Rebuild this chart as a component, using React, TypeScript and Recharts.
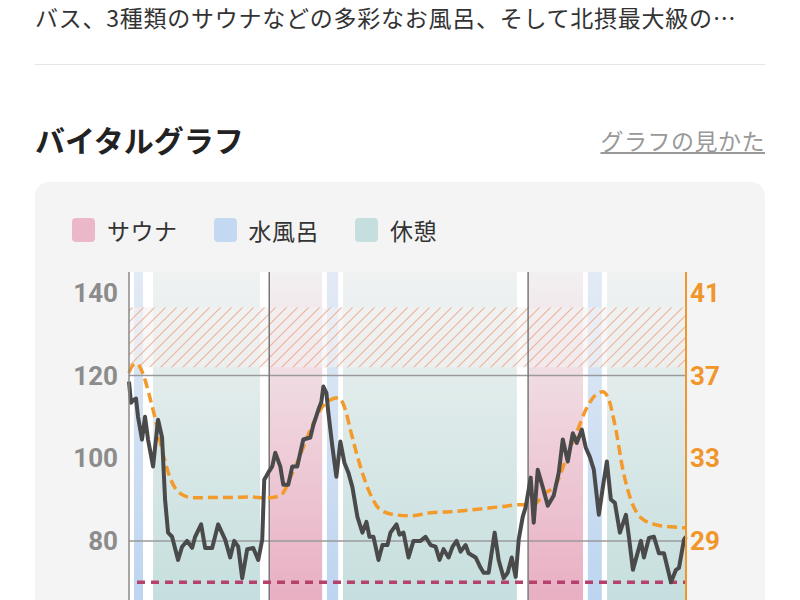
import React from "react";
import {
  ComposedChart,
  Line,
  XAxis,
  YAxis,
  ReferenceArea,
  ReferenceLine,
} from "recharts";

// heart rate (bpm) – time index / value
const hrTime = [
  0, 0.5, 1, 1.75, 2.25, 3.25, 4, 4.75, 6, 7.25,
  8.25, 9, 9.75, 10.75, 12.25, 13.25, 14.5, 15.75, 16.5, 18,
  19, 20.75, 22.25, 24, 25.25, 26.25, 27.25, 28.25, 29.5, 31,
  32.25, 33.25, 33.75, 34.75, 35.75, 36.5, 37.75, 38.5, 39.75, 40.75,
  42, 42.75, 43.5, 45.25, 46, 47.25, 48, 48.5, 49.25, 49.75,
  50.75, 51.75, 52.75, 53.75, 54.75, 55.75, 57, 58.25, 59.25, 60,
  61, 62.25, 63.25, 64.5, 65.25, 66.75, 67.5, 68.5, 69.75, 71,
  72.75, 74, 75.25, 76.5, 77.5, 78.5, 79.75, 80.75, 81.75, 82.75,
  84, 84.75, 86.5, 87.75, 88.5, 89.75, 91.25, 92.25, 93.5, 94.5,
  95.5, 96.5, 97.25, 98.25, 99, 100.25, 101, 102, 103.25, 104.5,
  106, 107.25, 108.25, 109.5, 110.75, 111.75, 113, 114, 115, 116,
  117.25, 118.25, 119.25, 120.25, 121.25, 122.5, 124, 124.75, 125.75, 127.75,
  128.5, 129.75, 131, 132.25, 133.5, 135.25, 136.5, 137.25, 138.5, 139,
];
const hrValue = [
  118.5, 113.4, 114, 114.4, 110, 104.5, 110, 104.5, 98, 109.3,
  105, 90, 82, 81, 75.4, 78.6, 80, 78.3, 81, 84,
  78.3, 78.3, 84, 80.3, 76, 80, 78.6, 71, 78, 78.3,
  75.4, 80.3, 94.8, 96.5, 98, 101.3, 98, 93.6, 93.6, 98,
  98, 101.3, 104.5, 105, 108, 111.7, 113.6, 117.3, 115.8, 111,
  102.8, 95.5, 104, 98.9, 96.5, 93, 85.8, 82, 84.6, 81,
  81, 75.4, 79, 79, 82, 84, 81.5, 82, 76, 80,
  80, 81, 79, 78.6, 75.4, 78, 76, 78.6, 80, 77.4,
  79, 77, 76, 73.5, 72.3, 72.3, 82, 75.4, 71, 72.3,
  76, 71.3, 80.3, 85.8, 88.2, 95.3, 84.4, 97.2, 93, 88.5,
  91, 96.5, 104.5, 99.2, 106, 103.7, 106.9, 102.5, 100.3, 97.2,
  86.3, 93, 99.2, 90, 89.2, 82, 86.3, 81, 73, 80,
  76, 80.7, 81, 77, 77, 70, 73, 73.5, 80.3, 81,
];

// body temperature (°C)
const tempTime = [
  0, 1, 2, 3, 4, 5.25, 6.5, 8.25, 10.25, 12.75,
  16, 20.25, 25.25, 30.25, 34, 37.75, 39, 40.25, 42.75, 45.25,
  47.75, 50.25, 52.25, 54, 55.25, 57.25, 59.75, 62.75, 66.5, 70.25,
  75.25, 80.25, 85.25, 92.75, 97.75, 100.75, 104, 106.5, 109, 111.5,
  114, 116.5, 118.25, 119.75, 121.5, 123.25, 125.25, 127.75, 131.5, 135.25,
  139,
];
const tempValue = [
  37.13, 37.5, 37.57, 37.3, 36.79, 35.9, 34.95, 33.41, 32.05, 31.3,
  31.08, 31.1, 31.1, 31.12, 31.08, 31.18, 31.5, 32.05, 33.16, 34.37,
  35.34, 35.82, 35.92, 35.34, 34.37, 32.92, 31.47, 30.5, 30.26, 30.21,
  30.36, 30.41, 30.5, 30.65, 30.75, 30.75, 31.33, 31.71, 32.92, 34.13,
  35.34, 36.07, 36.21, 35.82, 34.37, 32.44, 30.99, 30.12, 29.78, 29.68,
  29.63,
];

// phases
const bandStart = [1.25, 6, 35.2, 49.4, 53.4, 99.8, 114.5, 119.3];
const bandEnd = [3.5, 32.7, 48.2, 52.2, 96.8, 113.3, 118, 139];
const bandKind = ["water", "rest", "sauna", "water", "rest", "sauna", "water", "rest"];

const setMarks = [35, 99.6];
const hrTicks = [80, 100, 120, 140];
const hrGrid = [80, 120];
const tempTicks = [29, 33, 37, 41];
const restingHr = 70;
const hatchLow = 122;
const hatchHigh = 136.4;

const legendLabels = ["サウナ", "水風呂", "休憩"];
const legendColors = ["#ebb8ca", "#c2d9f1", "#c4dfdd"];

const hrData = hrTime.map((t, i) => ({ t, hr: hrValue[i] }));
const tempData = tempTime.map((t, i) => ({ t, temp: tempValue[i] }));

const jp = '"Noto Sans CJK JP", "Noto Sans", sans-serif';

export default function App() {
  return (
    <div
      style={{
        position: "absolute",
        left: 0,
        top: 0,
        width: 800,
        height: 600,
        overflow: "hidden",
        background: "#fff",
        fontFamily: jp,
      }}
    >
      <div
        style={{
          position: "absolute",
          left: 35,
          top: 0,
          fontSize: 23,
          color: "#333",
          whiteSpace: "nowrap",
          letterSpacing: 0.75,
        }}
      >
        バス、3種類のサウナなどの多彩なお風呂、そして北摂最大級の…
      </div>
      <div
        style={{
          position: "absolute",
          left: 35,
          top: 64,
          width: 730,
          height: 1,
          background: "#e6e6e6",
        }}
      />
      <div
        style={{
          position: "absolute",
          left: 35,
          top: 117,
          fontSize: 30,
          fontWeight: 700,
          color: "#222",
          whiteSpace: "nowrap",
        }}
      >
        バイタルグラフ
      </div>
      <div
        style={{
          position: "absolute",
          right: 35,
          top: 123,
          fontSize: 23,
          letterSpacing: 0.5,
          color: "#999",
          textDecoration: "underline",
          whiteSpace: "nowrap",
        }}
      >
        グラフの見かた
      </div>

      <div
        style={{
          position: "absolute",
          left: 35,
          top: 182,
          width: 730,
          height: 500,
          background: "#f4f4f4",
          borderRadius: 14,
        }}
      />

      <div
        style={{
          position: "absolute",
          left: 72,
          top: 213,
          display: "flex",
          alignItems: "center",
          fontSize: 23,
          letterSpacing: 0.5,
          color: "#333",
        }}
      >
        {legendLabels.map((l, i) => (
          <div
            key={l}
            style={{ display: "flex", alignItems: "center", marginRight: 36 }}
          >
            <span
              style={{
                width: 23,
                height: 24,
                borderRadius: 4,
                background: legendColors[i],
                marginRight: 12,
              }}
            />
            <span>{l}</span>
          </div>
        ))}
      </div>

      <div style={{ position: "absolute", left: 35, top: 262 }}>
        <ComposedChart
          width={730}
          height={413}
          margin={{ top: 10, right: 19, bottom: 10, left: 0 }}
        >
          <defs>
            <linearGradient id="gSauna" x1="0" y1="0" x2="0" y2="1">
              <stop offset="0%" stopColor="#f3f0f1" />
              <stop offset="100%" stopColor="#e7a2ba" />
            </linearGradient>
            <linearGradient id="gWater" x1="0" y1="0" x2="0" y2="1">
              <stop offset="0%" stopColor="#e2eaf5" />
              <stop offset="100%" stopColor="#b6d1ef" />
            </linearGradient>
            <linearGradient id="gRest" x1="0" y1="0" x2="0" y2="1">
              <stop offset="0%" stopColor="#f0f2f2" />
              <stop offset="100%" stopColor="#bddbda" />
            </linearGradient>
            <pattern
              id="hatch"
              patternUnits="userSpaceOnUse"
              width="11"
              height="11"
            >
              <rect width="11" height="11" fill="#f4f2f1" fillOpacity={0.6} />
              <path
                d="M-1,1 l2,-2 M0,11 l11,-11 M10,12 l2,-2"
                stroke="#e8906c"
                strokeWidth={1.1}
                strokeOpacity={0.65}
              />
            </pattern>
          </defs>
          <XAxis type="number" dataKey="t" domain={[0, 139]} hide />
          <YAxis
            yAxisId="hr"
            orientation="left"
            width={94}
            domain={[50, 145]}
            ticks={hrTicks}
            allowDataOverflow
            tickLine={false}
            tickSize={0}
            tickMargin={11}
            axisLine={{ stroke: "#8a8a8a", strokeWidth: 1.5 }}
            tick={{
              fill: "#8c8c8c",
              fontSize: 26,
              fontWeight: 700,
              fontFamily: "Roboto, sans-serif",
            }}
          />
          <YAxis
            yAxisId="temp"
            orientation="right"
            width={60}
            domain={[23, 42]}
            ticks={tempTicks}
            allowDataOverflow
            tickLine={false}
            tickSize={0}
            tickMargin={4}
            axisLine={{ stroke: "#f0962a", strokeWidth: 2 }}
            tick={{
              fill: "#f0962a",
              fontSize: 26,
              fontWeight: 700,
              fontFamily: "Roboto, sans-serif",
            }}
          />
          <ReferenceArea
            yAxisId="hr"
            x1={0}
            x2={139}
            y1={50}
            y2={145}
            fill="#ffffff"
            fillOpacity={1}
            stroke="none"
          />
          {bandStart.map((s, i) => (
            <ReferenceArea
              key={"b" + i}
              yAxisId="hr"
              x1={s}
              x2={bandEnd[i]}
              y1={50}
              y2={145}
              fill={
                bandKind[i] === "sauna"
                  ? "url(#gSauna)"
                  : bandKind[i] === "water"
                  ? "url(#gWater)"
                  : "url(#gRest)"
              }
              fillOpacity={1}
              stroke="none"
            />
          ))}
          <ReferenceArea
            yAxisId="hr"
            x1={0}
            x2={139}
            y1={hatchLow}
            y2={hatchHigh}
            fill="url(#hatch)"
            fillOpacity={1}
            stroke="none"
          />
          {hrGrid.map((g) => (
            <ReferenceLine
              key={"g" + g}
              yAxisId="hr"
              y={g}
              stroke="#9a9a9a"
              strokeWidth={1.5}
            />
          ))}
          {setMarks.map((m) => (
            <ReferenceLine
              key={"m" + m}
              yAxisId="hr"
              x={m}
              stroke="#777"
              strokeWidth={1.5}
            />
          ))}
          <ReferenceLine
            yAxisId="hr"
            segment={[
              { x: 2, y: restingHr },
              { x: 139, y: restingHr },
            ]}
            stroke="#b4426c"
            strokeWidth={3.5}
            strokeDasharray="8 6"
          />
          <Line
            yAxisId="temp"
            data={tempData}
            dataKey="temp"
            type="monotone"
            stroke="#f39a2b"
            strokeWidth={3.5}
            strokeDasharray="10 5"
            dot={false}
            isAnimationActive={false}
          />
          <Line
            yAxisId="hr"
            data={hrData}
            dataKey="hr"
            type="linear"
            stroke="#4a4a4a"
            strokeWidth={4}
            strokeLinejoin="round"
            dot={false}
            isAnimationActive={false}
          />
        </ComposedChart>
      </div>
    </div>
  );
}
